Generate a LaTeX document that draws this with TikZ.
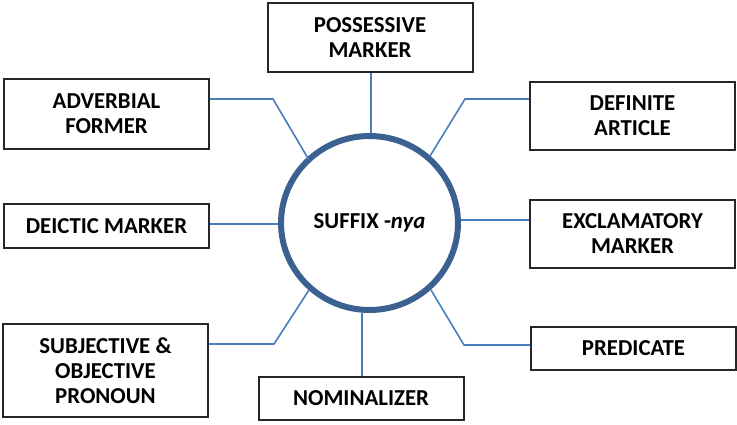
\documentclass[tikz,border=0pt]{standalone}
\usepackage{fontspec}
\setmainfont{Carlito}
\usetikzlibrary{shapes.geometric}

\definecolor{ringblue}{HTML}{3A6190}
\definecolor{linkblue}{HTML}{4A7EBB}
\definecolor{boxgray}{HTML}{262626}

\tikzset{
  role/.style={draw=boxgray, line width=1pt, fill=white, align=center,
    font=\fontsize{11.4}{12.5}\selectfont\bfseries, minimum width=102.5pt},
  link/.style={draw=linkblue, line width=0.8pt},
}

\begin{document}
\begin{tikzpicture}[x=0.5pt, y=-0.5pt]

  \useasboundingbox (0,0) rectangle (737,424);

  % Hub
  \node[ellipse, draw=ringblue, line width=3pt, minimum width=84.5pt,
    minimum height=87pt, font=\fontsize{11.4}{12.5}\selectfont\bfseries]
    (hub) at (369.5,223) {\raisebox{-3pt}{SUFFIX -\textit{nya}}};

  % Functions around the hub
  \node[role, minimum height=34.5pt] (poss) at (370,37.5) {POSSESSIVE\\MARKER};
  \node[role, minimum height=35pt] (adv) at (106.5,114) {ADVERBIAL\\FORMER};
  \node[role, minimum height=22pt] (deic) at (106.5,226) {DEICTIC MARKER};
  \node[role, minimum height=46.5pt] (subj) at (105.5,370.5) {SUBJECTIVE \&\\OBJECTIVE\\PRONOUN};
  \node[role, minimum height=21.5pt] (nom) at (361,398.5) {NOMINALIZER};
  \node[role, minimum height=34pt] (def) at (632.5,116) {DEFINITE\\ARTICLE};
  \node[role, minimum height=34pt] (excl) at (632.5,234) {EXCLAMATORY\\MARKER};
  \node[role, minimum height=21.5pt] (pred) at (633.5,348.5) {PREDICATE};

  % Bend points
  \coordinate (advk) at (273,99);
  \coordinate (advh) at (309,160);
  \coordinate (defk) at (465,99);
  \coordinate (defh) at (430,156);
  \coordinate (subk) at (274,344);
  \coordinate (subh) at (309,290);
  \coordinate (prek) at (464,345);
  \coordinate (preh) at (431,290);

  % Connectors
  \draw[link] (poss.south -| 371,0) -- (hub.north -| 371,0);
  \draw[link] (nom.north -| 362,0) -- (hub.south -| 362,0);
  \draw[link] (adv.east |- advk) -- (advk) -- (advh);
  \draw[link] (def.west |- defk) -- (defk) -- (defh);
  \draw[link] (subj.east |- subk) -- (subk) -- (subh);
  \draw[link] (pred.west |- prek) -- (prek) -- (preh);
  \draw[link] (deic.east |- 0,224) -- (hub.west |- 0,224);
  \draw[link] (excl.west |- 0,220) -- (hub.east |- 0,220);

\end{tikzpicture}
\end{document}
